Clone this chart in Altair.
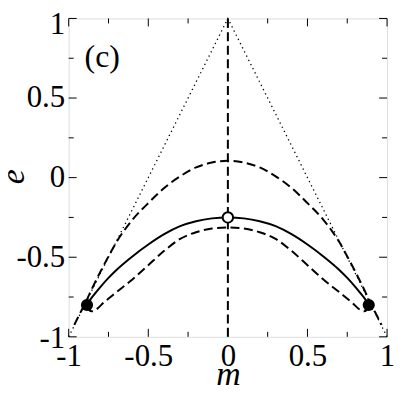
import altair as alt
import pandas as pd

# ---------------- data ----------------
# dotted envelope
dotted_m = [-1.0, 0.0, 1.0]
dotted_e = [-1.0, 1.0, -1.0]

# upper dashed curve
upper_m = [-0.965, -0.93, -0.89, -0.85, -0.8, -0.75, -0.7, -0.65, -0.6, -0.5, -0.4, -0.3, -0.2, -0.1, 0.0,
           0.1, 0.2, 0.3, 0.4, 0.5, 0.6, 0.65, 0.7, 0.75, 0.8, 0.85, 0.89, 0.93, 0.965]
upper_e = [-0.925, -0.855, -0.775, -0.69, -0.59, -0.495, -0.405, -0.33, -0.265, -0.16, -0.065, 0.008, 0.064, 0.095, 0.106,
           0.095, 0.064, 0.008, -0.065, -0.16, -0.265, -0.33, -0.405, -0.495, -0.59, -0.69, -0.775, -0.855, -0.925]

# solid curve
solid_m = [-0.885, -0.86, -0.83, -0.8, -0.75, -0.7, -0.6, -0.5, -0.4, -0.3, -0.2, -0.1, 0.0,
           0.1, 0.2, 0.3, 0.4, 0.5, 0.6, 0.7, 0.75, 0.8, 0.83, 0.86, 0.885]
solid_e = [-0.80, -0.76, -0.722, -0.686, -0.63, -0.58, -0.495, -0.42, -0.355, -0.305, -0.274, -0.256, -0.25,
           -0.256, -0.274, -0.305, -0.355, -0.42, -0.495, -0.58, -0.63, -0.686, -0.722, -0.76, -0.80]

# lower dashed curve
lower_m = [-0.885, -0.872, -0.855, -0.83, -0.78, -0.7, -0.6, -0.5, -0.4, -0.3, -0.2, -0.1, 0.0,
           0.1, 0.2, 0.3, 0.4, 0.5, 0.6, 0.7, 0.78, 0.83, 0.855, 0.872, 0.885]
lower_e = [-0.805, -0.832, -0.84, -0.83, -0.785, -0.72, -0.64, -0.55, -0.46, -0.385, -0.343, -0.32, -0.3125,
           -0.32, -0.343, -0.385, -0.46, -0.55, -0.64, -0.72, -0.785, -0.83, -0.84, -0.832, -0.805]

# vertical dashed line at m = 0
vline_m = [0.0]
vline_e1 = [-1.0]
vline_e2 = [1.0]

# special points
filled_m = [-0.885, 0.885]
filled_e = [-0.80, -0.80]
open_m = [0.0]
open_e = [-0.25]

# panel label
panel_text = ["(c)"]
panel_m = [-0.9]
panel_e = [0.76]

# ticks
major_ticks = [-1.0, -0.5, 0.0, 0.5, 1.0]
major_labels = ["-1", "-0.5", "0", "0.5", "1"]
minor_ticks = [-0.75, -0.25, 0.25, 0.75]

# ---------------- helpers ----------------
W = 320
H = 320
FONT = "Liberation Serif, Times New Roman, Times, serif"


def label_expr(vals, labs):
    s = "''"
    for v, l in reversed(list(zip(vals, labs))):
        s = f"datum.value == {v} ? '{l}' : {s}"
    return s


LEXPR = label_expr(major_ticks, major_labels)

xs = alt.Scale(domain=[-1, 1], nice=False, zero=False)
ys = alt.Scale(domain=[-1, 1], nice=False, zero=False)

x_axis = alt.Axis(values=major_ticks, labelExpr=LEXPR, ticks=False, tickSize=0, domain=False, grid=False,
                  labelFont=FONT, labelFontSize=31, labelColor="black", labelPadding=5,
                  labelFlush=False, labelOverlap=False,
                  title="m", titleFont=FONT, titleFontSize=34, titleFontStyle="italic",
                  titleFontWeight="normal", titleColor="black",
                  titleX=W / 2, titleY=48, titleAlign="center", titleBaseline="alphabetic")
y_axis = alt.Axis(values=major_ticks, labelExpr=LEXPR, ticks=False, tickSize=0, domain=False, grid=False,
                  labelFont=FONT, labelFontSize=31, labelColor="black", labelPadding=4,
                  labelFlush=False, labelOverlap=False,
                  labelOffset={"expr": "datum.value == 1 ? 6.5 : (datum.value == -1 ? 2 : 0)"},
                  title="e", titleFont=FONT, titleFontSize=34, titleFontStyle="italic",
                  titleFontWeight="normal", titleColor="black", titleAngle=270,
                  titleX=-45, titleY=158.5, titleAlign="center", titleBaseline="alphabetic")

X = alt.X("m:Q", scale=xs, axis=x_axis)
Y = alt.Y("e:Q", scale=ys, axis=y_axis)


def curve_df(ms, es):
    return pd.DataFrame({"m": ms, "e": es, "i": list(range(len(ms)))})


def line_layer(ms, es, dash=None, width=2.0, interp="monotone"):
    kw = dict(color="black", strokeWidth=width, interpolate=interp, strokeCap="butt")
    if dash is not None:
        kw["strokeDash"] = dash
    return alt.Chart(curve_df(ms, es)).mark_line(**kw).encode(x=X, y=Y, order="i:Q")


dotted = line_layer(dotted_m, dotted_e, dash=[1.3, 3.4], width=1.3, interp="linear")
upper = line_layer(upper_m, upper_e, dash=[9, 4.5])
solid = line_layer(solid_m, solid_e)
lower = line_layer(lower_m, lower_e, dash=[9, 4.5])

vline = alt.Chart(pd.DataFrame({"m": vline_m, "e": vline_e1, "e2": vline_e2})).mark_rule(
    color="black", strokeWidth=2, strokeDash=[9, 4.5]).encode(x=X, y=Y, y2="e2:Q")

filled = alt.Chart(pd.DataFrame({"m": filled_m, "e": filled_e})).mark_point(
    shape="circle", filled=True, color="black", size=150, opacity=1).encode(x=X, y=Y)
opened = alt.Chart(pd.DataFrame({"m": open_m, "e": open_e})).mark_point(
    shape="circle", filled=True, fill="white", stroke="black", strokeWidth=2, size=110, opacity=1).encode(x=X, y=Y)

panel = alt.Chart(pd.DataFrame({"m": panel_m, "e": panel_e, "t": panel_text})).mark_text(
    align="left", baseline="middle", font=FONT, fontSize=32, color="black").encode(x=X, y=Y, text="t:N")

# inward ticks on all four sides
maj = pd.DataFrame({"m": major_ticks, "e": major_ticks})
mnr = pd.DataFrame({"m": minor_ticks, "e": minor_ticks})
tick_layers = []
for df, ln in ((maj, 8), (mnr, 5)):
    tick_layers.append(alt.Chart(df).mark_rule(color="black", strokeWidth=1).encode(
        x=X, y=alt.value(H), y2=alt.value(H - ln)))
    tick_layers.append(alt.Chart(df).mark_rule(color="black", strokeWidth=1).encode(
        x=X, y=alt.value(0), y2=alt.value(ln)))
    tick_layers.append(alt.Chart(df).mark_rule(color="black", strokeWidth=1).encode(
        y=Y, x=alt.value(0), x2=alt.value(ln)))
    tick_layers.append(alt.Chart(df).mark_rule(color="black", strokeWidth=1).encode(
        y=Y, x=alt.value(W), x2=alt.value(W - ln)))

chart = alt.layer(
    *tick_layers, dotted, upper, lower, solid, vline, filled, opened, panel
).properties(
    width=W, height=H,
    padding={"left": 61, "top": 9.5, "right": 12, "bottom": 60},
    autosize=alt.AutoSizeParams(type="none"),
).configure_view(stroke="black", strokeWidth=2).configure(background="white")

chart.save("out.html", embed_options={"renderer": "svg", "actions": False})
